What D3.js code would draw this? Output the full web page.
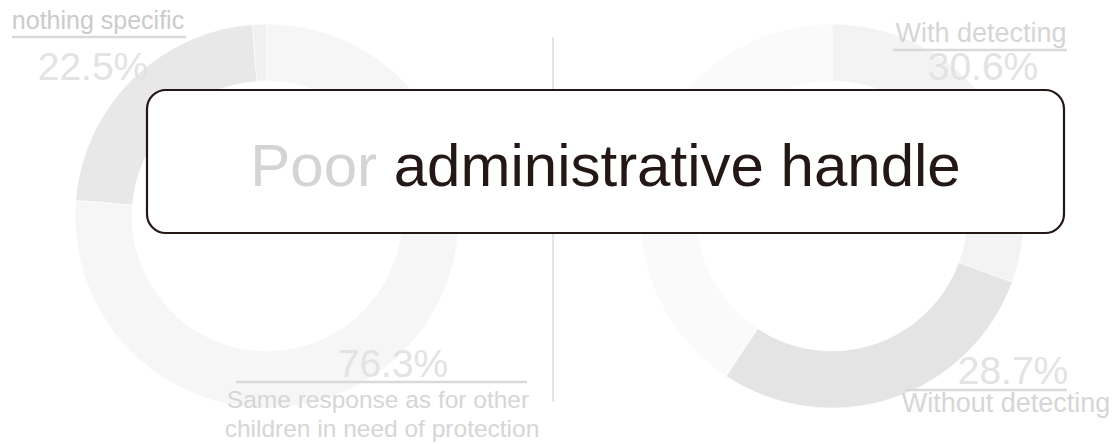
<!DOCTYPE html>
<html>
<head>
<meta charset="utf-8">
<script src="https://cdn.jsdelivr.net/npm/d3@7"></script>
<style>
  html, body { margin: 0; padding: 0; background: #ffffff; }
  svg { display: block; font-family: "Liberation Sans", Arial, sans-serif; }
</style>
</head>
<body>
<svg id="chart" width="1118" height="444"></svg>
<script>
// ---- data ----
const leftCategories = ["Same response as for other children in need of protection", "nothing specific", "Other"];
const leftValues = [76.3, 22.5, 1.2];
const rightCategories = ["With detecting", "Without detecting", "Other"];
const rightValues = [30.6, 28.7, 40.7];
const titleMuted = "Poor";
const titleMain = "administrative handle";

// ---- styles ----
const leftColors = ["#f6f6f6", "#e8e8e8", "#f1f1f1"];
const rightColors = ["#f3f3f3", "#e4e4e4", "#fafafa"];

const svg = d3.select("#chart");

const pie = d3.pie().sort(null).value(d => d.v);
const arc = d3.arc().innerRadius(135).outerRadius(192);

function donut(cx, cy, cats, vals, colors) {
  const data = cats.map((c, i) => ({ c, v: vals[i], col: colors[i] }));
  const g = svg.append("g").attr("transform", `translate(${cx},${cy})`);
  g.selectAll("path").data(pie(data)).join("path")
    .attr("d", arc)
    .attr("fill", d => d.data.col)
    .attr("stroke", "#ffffff")
    .attr("stroke-width", 0.6);
  return g;
}

donut(267, 216, leftCategories, leftValues, leftColors);
donut(832, 216, rightCategories, rightValues, rightColors);

// divider
svg.append("line")
  .attr("x1", 553).attr("x2", 553).attr("y1", 37).attr("y2", 402)
  .attr("stroke", "#cccccc").attr("stroke-width", 1);

const fmt = v => d3.format(".1f")(v) + "%";

function label(opts) {
  const g = svg.append("g");
  (opts.lines || []).forEach(l => {
    g.append("text")
      .attr("x", l.x).attr("y", l.y)
      .attr("text-anchor", l.anchor || "middle")
      .attr("font-size", l.size)
      .attr("fill", l.color)
      .text(l.text);
  });
  if (opts.rule) {
    g.append("line")
      .attr("x1", opts.rule[0]).attr("x2", opts.rule[1])
      .attr("y1", opts.rule[2]).attr("y2", opts.rule[2])
      .attr("stroke", "#d9d9d9").attr("stroke-width", 2.5);
  }
}

const nameCol = "#cbcbcb", pctCol = "#e3e3e3";

// left labels
label({
  lines: [
    { text: leftCategories[1], x: 98, y: 29, size: 25, color: nameCol },
    { text: fmt(leftValues[1]), x: 93, y: 80, size: 39, color: pctCol }
  ],
  rule: [12, 186, 37]
});
label({
  lines: [
    { text: fmt(leftValues[0]), x: 393, y: 377, size: 39, color: pctCol },
    { text: "Same response as for other", x: 378, y: 408, size: 24.5, color: "#d6d6d6" },
    { text: "children in need of protection", x: 382, y: 437, size: 24.5, color: "#d6d6d6" }
  ],
  rule: [236, 527, 382]
});
// right labels
label({
  lines: [
    { text: rightCategories[0], x: 981, y: 42, size: 27, color: "#d6d6d6" },
    { text: fmt(rightValues[0]), x: 983, y: 80, size: 39, color: pctCol }
  ],
  rule: [893, 1067, 50]
});
label({
  lines: [
    { text: fmt(rightValues[1]), x: 1013, y: 384, size: 39, color: pctCol },
    { text: rightCategories[1], x: 1006, y: 412, size: 27, color: "#d6d6d6" }
  ],
  rule: [905, 1067, 390]
});

// overlay box
const bx = 147, by = 90, bw = 1064 - 147, bh = 233 - 90;
svg.append("rect")
  .attr("x", bx).attr("y", by).attr("width", bw).attr("height", bh)
  .attr("rx", 19).attr("ry", 19)
  .attr("fill", "#ffffff")
  .attr("stroke", "#231815").attr("stroke-width", 2.2);

const title = svg.append("text")
  .attr("x", bx + bw / 2).attr("y", 186)
  .attr("text-anchor", "middle")
  .attr("font-size", 60);
title.append("tspan").attr("fill", "#d4d4d4").text(titleMuted);
title.append("tspan").attr("fill", "#231815").text(" " + titleMain);
</script>
</body>
</html>
